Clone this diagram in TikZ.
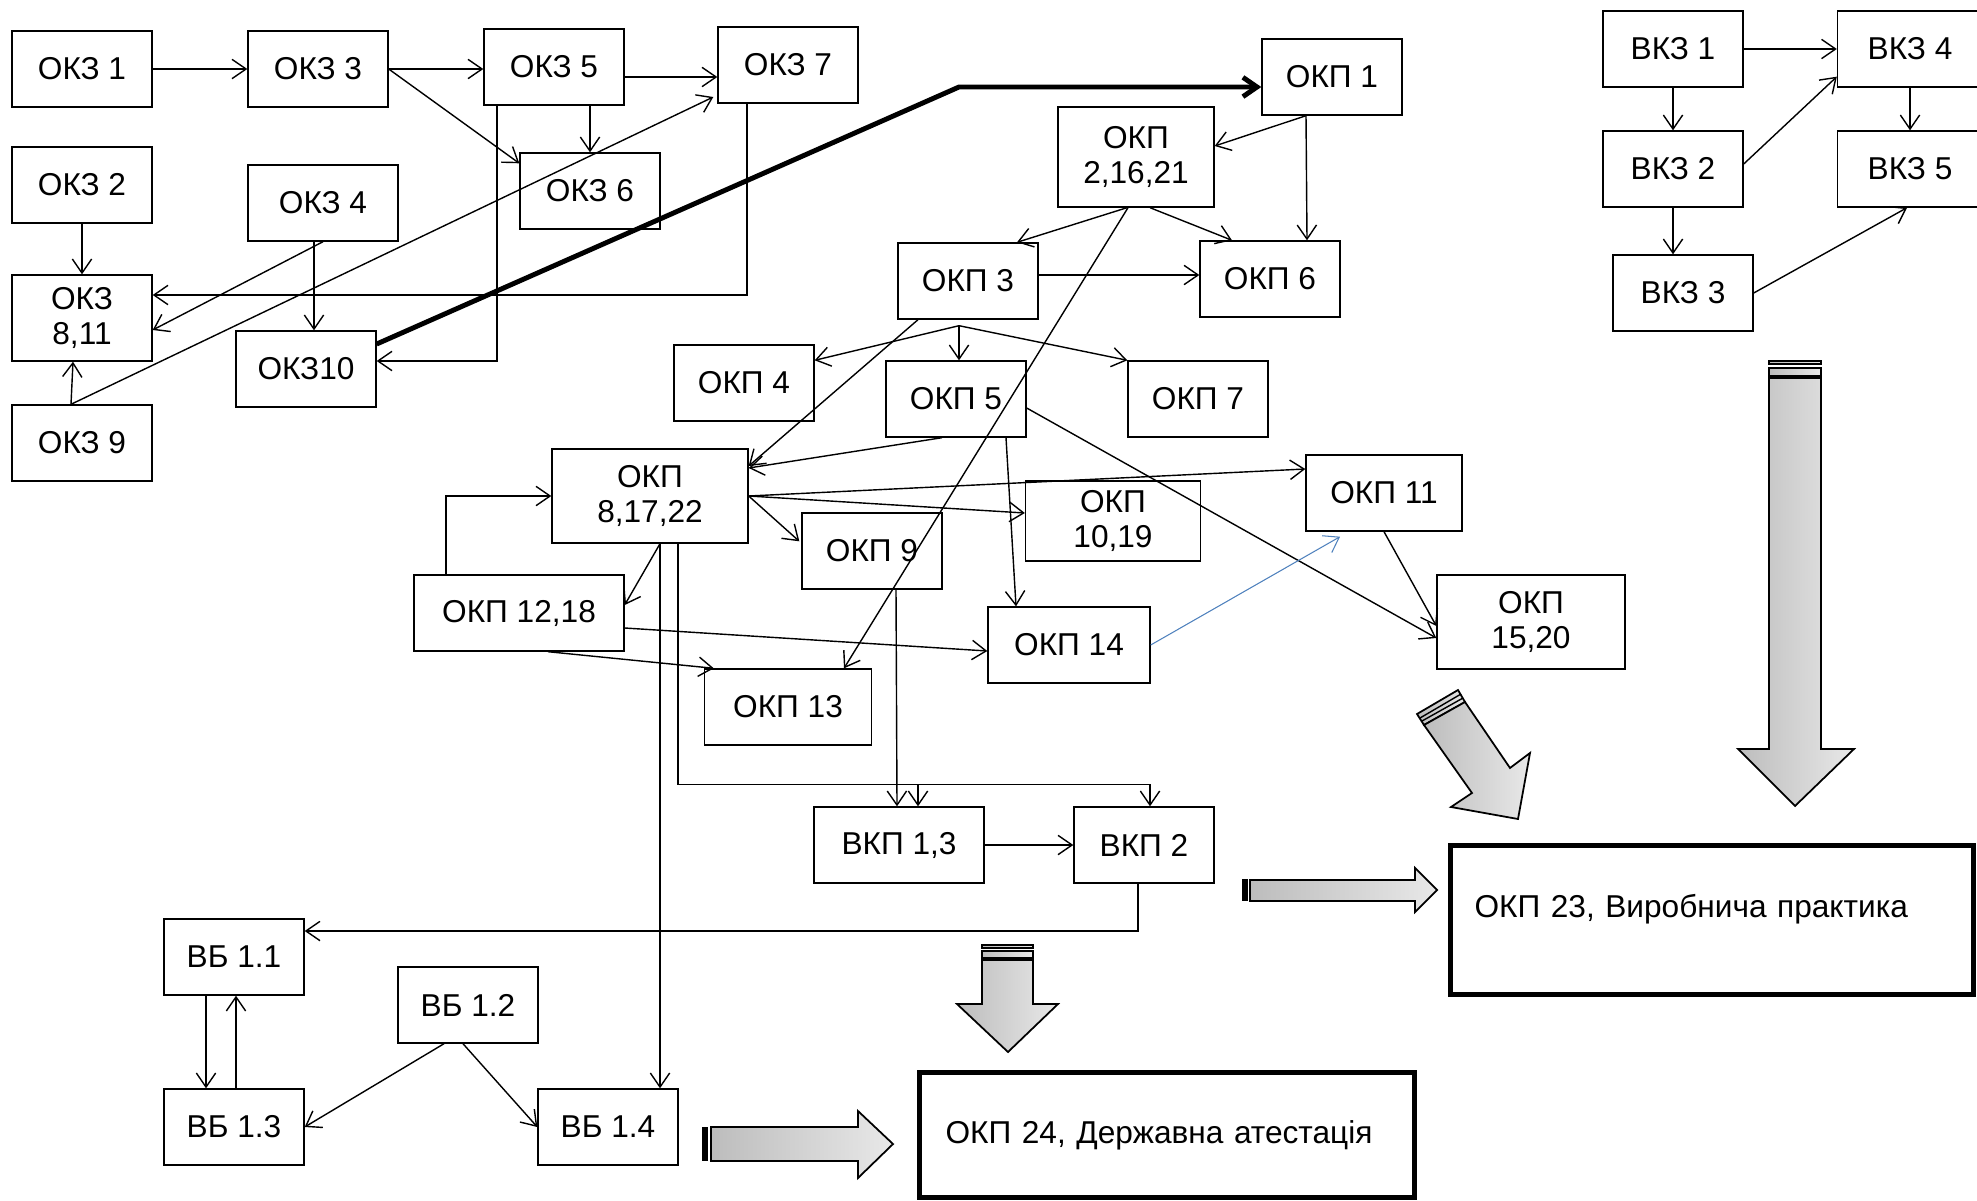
\documentclass[tikz,border=0pt]{standalone}
\usepackage{fontspec}
\setmainfont{Liberation Sans}
\usetikzlibrary{arrows.meta}
\definecolor{linkblue}{RGB}{79,129,189}

\begin{document}
\begin{tikzpicture}[x=0.02cm,y=-0.02cm,line width=0.8pt,
  >={Straight Barb[length=8pt,width=11pt]},
  blk/.style={draw,minimum width=2.8cm,minimum height=1.52cm,inner sep=0pt,align=center,font=\fontsize{18}{19.5}\selectfont},
  big/.style={draw,line width=2.8pt,inner sep=0pt,align=left,font=\fontsize{18}{19.5}\selectfont},
  fat/.style={draw,line width=1pt,left color=black!26,right color=black!9}]
\useasboundingbox (0,0) rectangle (1977,1200);

\node[blk] (okz1) at (82,69) {ОКЗ 1};
\node[blk] (okz3) at (318,69) {ОКЗ 3};
\node[blk] (okz5) at (554,67) {ОКЗ 5};
\node[blk] (okz7) at (788,65) {ОКЗ 7};
\node[blk] (okz2) at (82,185) {ОКЗ 2};
\node[blk,minimum width=3cm] (okz4) at (323,203) {ОКЗ 4};
\node[blk] (okz6) at (590,191) {ОКЗ 6};
\node[blk,minimum height=1.72cm] (okz811) at (82,318) {ОКЗ\\8,11};
\node[blk] (okz10) at (306,369) {ОКЗ10};
\node[blk] (okz9) at (82,443) {ОКЗ 9};
\node[blk] (okp1) at (1332,77) {ОКП 1};
\node[blk,minimum width=3.12cm,minimum height=2cm] (okp21621) at (1136,157) {ОКП\\2,16,21};
\node[blk] (okp3) at (968,281) {ОКП 3};
\node[blk] (okp6) at (1270,279) {ОКП 6};
\node[blk] (okp4) at (744,383) {ОКП 4};
\node[blk] (okp5) at (956,399) {ОКП 5};
\node[blk] (okp7) at (1198,399) {ОКП 7};
\node[blk,minimum width=3.92cm,minimum height=1.88cm] (okp81722) at (650,496) {ОКП\\8,17,22};
\node[blk] (okp9) at (872,551) {ОКП 9};
\node[blk,minimum width=3.5cm,minimum height=1.6cm] (okp1019) at (1113,521) {ОКП\\10,19};
\node[blk,minimum width=3.12cm] (okp11) at (1384,493) {ОКП 11};
\node[blk,minimum width=4.2cm] (okp1218) at (519,613) {ОКП 12,18};
\node[blk,minimum width=3.34cm] (okp13) at (788,707) {ОКП 13};
\node[blk,minimum width=3.24cm] (okp14) at (1069,645) {ОКП 14};
\node[blk,minimum width=3.76cm,minimum height=1.88cm] (okp1520) at (1531,622) {ОКП\\15,20};
\node[blk,minimum width=3.4cm] (vkp13) at (899,845) {ВКП 1,3};
\node[blk] (vkp2) at (1144,845) {ВКП 2};
\node[blk] (vb11) at (234,957) {ВБ 1.1};
\node[blk] (vb12) at (468,1005) {ВБ 1.2};
\node[blk] (vb13) at (234,1127) {ВБ 1.3};
\node[blk] (vb14) at (608,1127) {ВБ 1.4};
\node[blk] (vkz1) at (1673,49) {ВКЗ 1};
\node[blk] (vkz2) at (1673,169) {ВКЗ 2};
\node[blk] (vkz3) at (1683,293) {ВКЗ 3};
\node[blk,minimum width=2.9cm] (vkz4) at (1910,49) {ВКЗ 4};
\node[blk,minimum width=2.9cm] (vkz5) at (1910,169) {ВКЗ 5};
\node[big,text width=9.5cm,inner xsep=0.48cm,minimum height=2.98cm,text depth=0.55cm] (okp23) at (1712,920) {ОКП 23, Виробнича практика};
\node[big,text width=8.86cm,inner xsep=0.52cm,minimum height=2.5cm] (okp24) at (1167,1135) {ОКП 24, Державна атестація};

\coordinate (kink) at (959,87);
\coordinate (fan) at ([shift={(-9,6)}]okp3.south);

\path[->]
  (okz1) edge (okz3)
  (okz3.east) edge (okz3.east -| okz5.west)
  (okz3.east) edge ([shift={(0,11)}]okz6.north west)
  (okz5.south -| okz6) edge (okz6)
  ([shift={(0,10)}]okz5.east) edge ([shift={(0,10)}]okz5.east -| okz7.west)
  (okz2) edge (okz811)
  (okz4.south) edge ([shift={(0,12)}]okz811.east)
  ([shift={(-9,0)}]okz4.south) edge ([shift={(-9,0)}]okz4.south |- okz10.north)
  ([shift={(-11,0)}]okz9.north) edge ([shift={(-9,0)}]okz811.south)
  ([shift={(-11,0)}]okz9.north) edge ([shift={(-4,32)}]okz7.west)
  ([shift={(-26,0)}]okp1.south) edge ([shift={(0,-11)}]okp21621.east)
  ([shift={(-26,0)}]okp1.south) edge ([shift={(37,0)}]okp6.north)
  ([shift={(-9,0)}]okp21621.south) edge ([shift={(49,0)}]okp3.north)
  ([shift={(14,0)}]okp21621.south) edge ([shift={(-38,0)}]okp6.north)
  ([shift={(-8,0)}]okp21621.south) edge ([shift={(56,0)}]okp13.north)
  ([shift={(0,-6)}]okp3.east) edge ([shift={(0,-6)}]okp3.east -| okp6.west)
  (fan) edge ([shift={(0,16)}]okp4.north east)
  (fan) edge (fan |- okp5.north)
  (fan) edge (okp7.north west)
  ([shift={(-50,0)}]okp3.south) edge ([shift={(0,-30)}]okp81722.east)
  ([shift={(-14,0)}]okp5.south) edge ([shift={(0,-28)}]okp81722.east)
  ([shift={(50,0)}]okp5.south) edge ([shift={(-53,0)}]okp14.north)
  ([shift={(0,9)}]okp5.east) edge ([shift={(0,16)}]okp1520.west)
  (okp81722.east) edge ([shift={(0,-24)}]okp11.west)
  (okp81722.east) edge ([shift={(0,-8)}]okp1019.west)
  (okp81722.east) edge ([shift={(-2,29)}]okp9.north west)
  ([shift={(10,0)}]okp81722.south) edge ([shift={(0,-8)}]okp1218.east)
  ([shift={(0,15)}]okp1218.east) edge ([shift={(0,6)}]okp14.west)
  ([shift={(29,0)}]okp1218.south) edge ([shift={(10,0)}]okp13.north west)
  (okp11.south) edge ([shift={(0,4)}]okp1520.west)
  ([shift={(24,0)}]okp9.south) edge ([shift={(-2,0)}]vkp13.north)
  ([shift={(10,0)}]okp81722.south) edge ([shift={(52,0)}]vb14.north)
  (vkp13) edge (vkp2)
  ([shift={(-28,0)}]vb11.south) edge ([shift={(-28,0)}]vb13.north)
  ([shift={(2,0)}]vb13.north) edge ([shift={(2,0)}]vb11.south)
  ([shift={(-24,0)}]vb12.south) edge (vb13.east)
  ([shift={(-5,0)}]vb12.south) edge (vb14.west)
  (vkz1) edge (vkz4)
  (vkz1) edge (vkz2)
  ([shift={(0,-5)}]vkz2.east) edge ([shift={(0,-11)}]vkz4.south west)
  (vkz4) edge (vkz5)
  (vkz2.south) edge (vkz2.south |- vkz3.north)
  (vkz3.east) edge ([shift={(-3,0)}]vkz5.south)
;
\draw[->] ([shift={(-57,0)}]okz5.south) |- ([shift={(0,-8)}]okz10.east);
\draw[->] ([shift={(-41,0)}]okz7.south) |- ([shift={(0,-23)}]okz811.east);
\draw[->] ([shift={(-73,0)}]okp1218.north) |- (okp81722.west);
\draw[->] ([shift={(28,0)}]okp81722.south) |- ([shift={(6,-22)}]vkp2.north) -- ([shift={(6,0)}]vkp2.north);
\draw[->] ([shift={(19,-22)}]vkp13.north) -- ([shift={(19,0)}]vkp13.north);
\draw[->] ([shift={(-6,0)}]vkp2.south) |- ([shift={(0,-26)}]vb11.east);
\draw[->,linkblue,line width=0.6pt] (okp14.east) -- ([shift={(-44,5)}]okp11.south);
\draw[->,line width=2.8pt] ([shift={(0,-25)}]okz10.east) -- (kink) -- (kink -| okp1.west);

\draw[fat] (1769,361) rectangle (1821,364);
\draw[fat] (1769,368) rectangle (1821,376);
\draw[fat] (1769,378) -- (1769,749) -- (1738,749) -- (1795,806) -- (1854,749) -- (1821,749) -- (1821,378) -- cycle;
\draw[fat] (1417,714) -- (1458,690) -- (1465,702) -- (1424,725) -- cycle;
\draw (1420,718) -- (1461,694);
\draw (1422,721) -- (1463,698);
\draw[fat] (1424,725) -- (1472,793) -- (1451,807) -- (1518,819) -- (1530,753) -- (1510,768) -- (1465,702) -- cycle;
\fill (1242,879) rectangle (1248,901);
\draw[fat] (1250,880) -- (1415,880) -- (1415,868) -- (1437,890) -- (1415,912) -- (1415,901) -- (1250,901) -- cycle;
\draw[fat] (982,945) rectangle (1033,948);
\draw[fat] (982,951) rectangle (1033,958);
\draw[fat] (982,960) -- (982,1004) -- (957,1004) -- (1008,1052) -- (1058,1004) -- (1033,1004) -- (1033,960) -- cycle;
\fill (702,1127) rectangle (708,1161);
\draw[fat] (711,1127) -- (858,1127) -- (858,1111) -- (893,1144) -- (858,1178) -- (858,1161) -- (711,1161) -- cycle;
\end{tikzpicture}
\end{document}
